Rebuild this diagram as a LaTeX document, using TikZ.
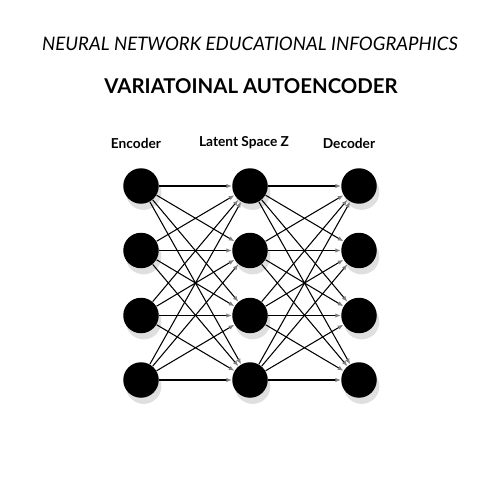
\documentclass[tikz,border=0pt]{standalone}
\usepackage{fontspec}
\setmainfont{Lato}
\usetikzlibrary{arrows.meta}
\usetikzlibrary{shadows}

\begin{document}
\begin{tikzpicture}[x=0.02cm, y=-0.02cm,
    neuron/.style={circle, fill=black, inner sep=0pt, minimum size=0.71cm,
      drop shadow={shadow xshift=1.5pt, shadow yshift=-3.5pt, opacity=0.25}},
    layername/.style={font=\bfseries\fontsize{7.8}{9}\selectfont},
    link/.style={line width=0.6pt, -{Latex[gray, length=3.2pt, width=2.6pt]}}]

    % Canvas 500 x 500
    \useasboundingbox (0,0) rectangle (500,500);

    % Titles
    \node (title) at (250,44) {\itshape\fontsize{10.6}{13}\selectfont NEURAL NETWORK EDUCATIONAL INFOGRAPHICS};
    \node (subtitle) at (251,86) {\bfseries\fontsize{11.6}{14}\selectfont VARIATOINAL AUTOENCODER};

    % Layer names
    \node[layername] (enclabel) at (136,143) {Encoder};
    \node[layername] (latlabel) at (244,143) {Latent Space Z};
    \node[layername] (declabel) at (349,143) {Decoder};

    % Encoder column
    \node[neuron] (e1) at (141,186) {};
    \node[neuron] (e2) at (141,250.5) {};
    \node[neuron] (e3) at (141,315.5) {};
    \node[neuron] (e4) at (141,380) {};

    % Latent column
    \node[neuron] (z1) at (250,186) {};
    \node[neuron] (z2) at (250,250.5) {};
    \node[neuron] (z3) at (250,315.5) {};
    \node[neuron] (z4) at (250,380) {};

    % Decoder column
    \node[neuron] (d1) at (359,186) {};
    \node[neuron] (d2) at (359,250.5) {};
    \node[neuron] (d3) at (359,315.5) {};
    \node[neuron] (d4) at (359,380) {};

    % Fully connected links
    \foreach \i in {1,...,4} {
      \foreach \j in {1,...,4} {
        \draw[link] (e\i) -- (z\j);
        \draw[link] (z\i) -- (d\j);
      }
    }

\end{tikzpicture}
\end{document}
